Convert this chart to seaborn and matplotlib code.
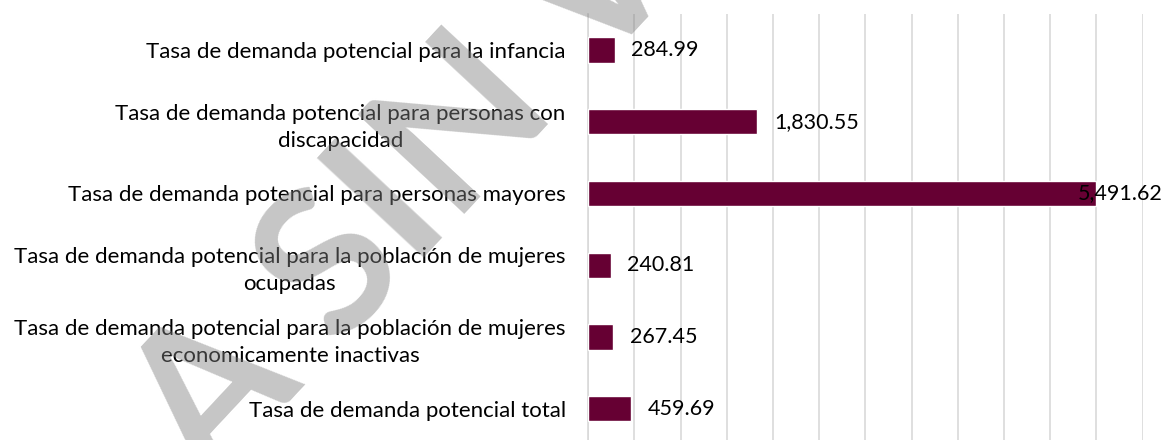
import numpy as np
import pandas as pd
import seaborn as sns
import matplotlib.pyplot as plt
from matplotlib.transforms import blended_transform_factory

# datos
categorias = [
    "Tasa de demanda potencial para la infancia",
    "Tasa de demanda potencial para personas con\ndiscapacidad",
    "Tasa de demanda potencial para personas mayores",
    "Tasa de demanda potencial para la población de mujeres\nocupadas",
    "Tasa de demanda potencial para la población de mujeres\neconomicamente inactivas",
    "Tasa de demanda potencial total",
]
valores = [284.99, 1830.55, 5491.62, 240.81, 267.45, 459.69]
etiquetas = ["284.99", "1,830.55", "5,491.62", "240.81", "267.45", "459.69"]

df = pd.DataFrame({"categoria": categorias, "valor": valores})

sns.set_theme(style="white")
plt.rcParams["font.family"] = ["Lato", "DejaVu Sans"]

fig = plt.figure(figsize=(11.67, 4.4), dpi=100)
ax = fig.add_axes([588.3 / 1167, -0.0100, 554.2 / 1167, 0.9777])

sns.barplot(data=df, x="valor", y="categoria", orient="h", color="#660033",
            saturation=1, width=0.353, ax=ax, zorder=3)

ax.set_xlim(0, 6000)
ax.set_xticks(np.arange(0, 6001, 500))
ax.xaxis.grid(True, color="#D9D9D9", linewidth=1.2, zorder=0)
ax.yaxis.grid(False)
ax.set_xlabel("")
ax.set_ylabel("")
ax.tick_params(axis="x", bottom=False, labelbottom=False)
ax.tick_params(axis="y", length=0, pad=16.3, labelsize=16, labelcolor="#000000")
for lbl in ax.get_yticklabels():
    lbl.set_multialignment("center")
    lbl.set_linespacing(1.45)
for s in ["top", "right", "bottom"]:
    ax.spines[s].set_visible(False)
ax.spines["left"].set_color("#D9D9D9")
ax.spines["left"].set_linewidth(1.2)

# etiquetas de valor
fig.canvas.draw()
renderer = fig.canvas.get_renderer()
borde = blended_transform_factory(fig.transFigure, ax.transData)
for i, (v, t) in enumerate(zip(valores, etiquetas)):
    txt = ax.annotate(t, (v, i), xytext=(12, 0), textcoords="offset points",
                      va="center", ha="left", fontsize=15.5, color="#000000",
                      zorder=5, annotation_clip=False)
    bb = txt.get_window_extent(renderer)
    if bb.x1 > fig.bbox.width - 3:
        # no cabe: se pega al borde derecho
        txt.remove()
        ax.text(1163 / 1167, i, t, transform=borde, va="center", ha="right",
                fontsize=15.5, color="#000000", zorder=5, clip_on=False)

# marca de agua (solo se ve un trozo)
fig.text(407 / 1167, 1 - 192 / 440, "A SIN V", rotation=47, ha="center", va="center",
         fontsize=145, fontweight="bold", color="#808080", alpha=0.45, zorder=10)

fig.savefig("out.png", dpi=100)
